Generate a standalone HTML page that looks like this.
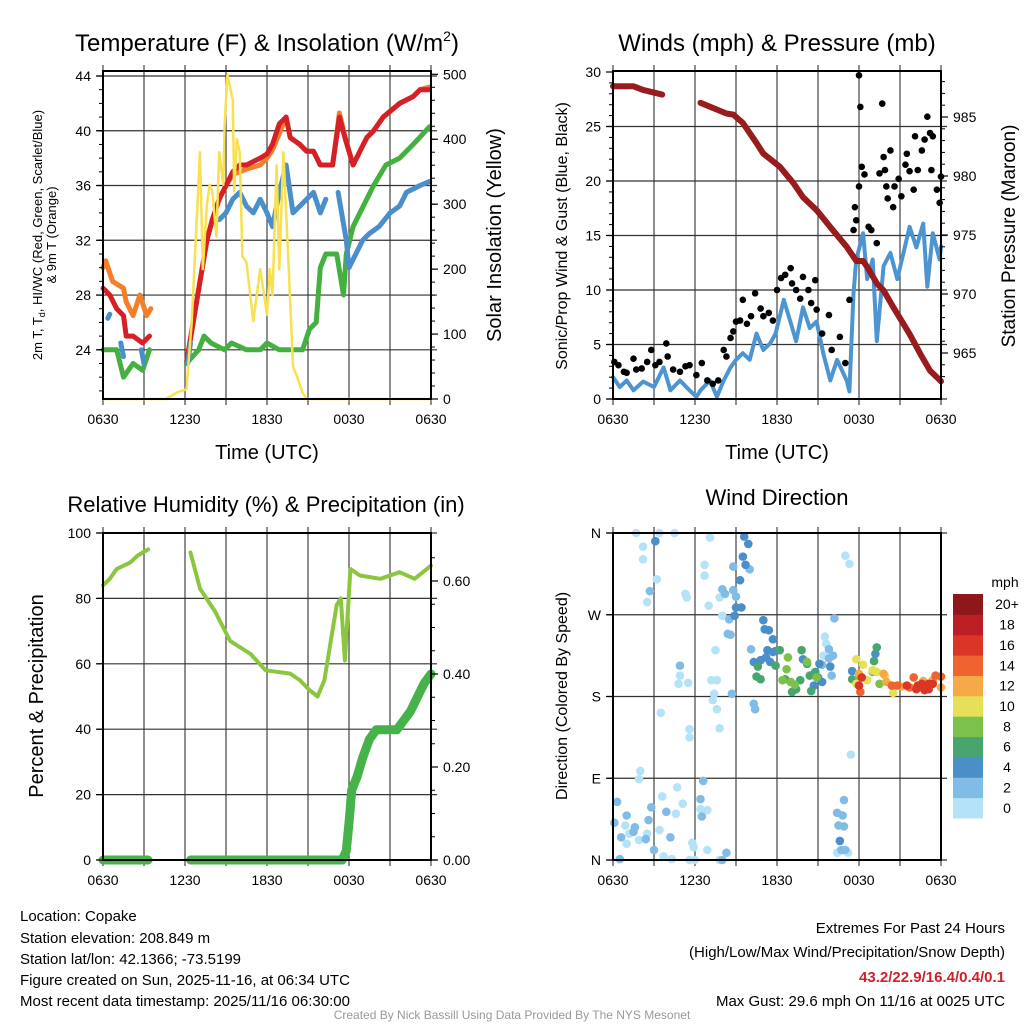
<!DOCTYPE html>
<html><head><meta charset="utf-8">
<style>
html,body{margin:0;padding:0;background:#fff;}
svg{display:block;font-family:"Liberation Sans",Arial,sans-serif;}
</style></head>
<body>
<svg id="chart" width="1024" height="1024" viewBox="0 0 1024 1024" xmlns="http://www.w3.org/2000/svg">
<rect x="0" y="0" width="1024" height="1024" fill="#fff"/>
<g id="bg"></g>
<g id="marks"></g>
<g id="frames"></g>
<text x="267" y="51" font-size="24" text-anchor="middle">Temperature (F) &amp; Insolation (W/m<tspan font-size="14" dy="-10">2</tspan><tspan dy="10">)</tspan></text>
<text x="777" y="51" font-size="24" text-anchor="middle">Winds (mph) &amp; Pressure (mb)</text>
<text x="266" y="512" font-size="22" text-anchor="middle">Relative Humidity (%) &amp; Precipitation (in)</text>
<text x="777" y="505" font-size="22" text-anchor="middle">Wind Direction</text>
<text x="267" y="459" font-size="20" text-anchor="middle">Time (UTC)</text>
<text x="777" y="459" font-size="20" text-anchor="middle">Time (UTC)</text>
<text transform="translate(42,235) rotate(-90)" font-size="13" text-anchor="middle">2m T, T<tspan font-size="9" dy="3">d</tspan><tspan dy="-3">, HI/WC (Red, Green, Scarlet/Blue)</tspan></text>
<text transform="translate(56,235) rotate(-90)" font-size="13" text-anchor="middle">&amp; 9m T (Orange)</text>
<text transform="translate(501,235) rotate(-90)" font-size="20" text-anchor="middle">Solar Insolation (Yellow)</text>
<text transform="translate(567,236) rotate(-90)" font-size="16" text-anchor="middle">Sonic/Prop Wind &amp; Gust (Blue, Black)</text>
<text transform="translate(1015,236) rotate(-90)" font-size="19" text-anchor="middle">Station Pressure (Maroon)</text>
<text transform="translate(43,696) rotate(-90)" font-size="20" text-anchor="middle">Percent &amp; Precipitation</text>
<text transform="translate(567,696) rotate(-90)" font-size="16" text-anchor="middle">Direction (Colored By Speed)</text>
<text x="1005" y="587" font-size="14" text-anchor="middle">mph</text>
<g font-size="15">
<text x="20" y="921">Location: Copake</text>
<text x="20" y="943">Station elevation: 208.849 m</text>
<text x="20" y="964">Station lat/lon: 42.1366; -73.5199</text>
<text x="20" y="985">Figure created on Sun, 2025-11-16, at 06:34 UTC</text>
<text x="20" y="1006">Most recent data timestamp: 2025/11/16 06:30:00</text>
</g>
<g font-size="15" text-anchor="end">
<text x="1005" y="933">Extremes For Past 24 Hours</text>
<text x="1005" y="957">(High/Low/Max Wind/Precipitation/Snow Depth)</text>
<text x="1005" y="982" fill="#d0202a" font-weight="bold">43.2/22.9/16.4/0.4/0.1</text>
<text x="1005" y="1006">Max Gust: 29.6 mph On 11/16 at 0025 UTC</text>
</g>
<text x="512" y="1019" font-size="12" fill="#999" text-anchor="middle">Created By Nick Bassill Using Data Provided By The NYS Mesonet</text>
</svg>
<script>
// ---------- DATA (hours since 0630 UTC) ----------
const timeTickLabels = ["0630","1230","1830","0030","0630"];
const tempTicks = [24,28,32,36,40,44];
const insolTicks = [0,100,200,300,400,500];
const windTicks = [0,5,10,15,20,25,30];
const pressTicks = [965,970,975,980,985];
const rhTicks = [0,20,40,60,80,100];
const precipTicks = ["0.00","0.20","0.40","0.60"];
const dirTickLabels = ["N","E","S","W","N"];
const speedBinLabels = ["0","2","4","6","8","10","12","14","16","18","20+"];

const orangeHours = [0,0.2,0.7,1.5,1.7,2.2,2.7,3.2,3.5,null,6.1,6.6,7.1,7.6,8.0,8.5,9.0,9.5,10.0,10.5,11.5,12.0,12.4,12.9,13.4,13.7,14.4,14.9,15.4,15.9,16.3,16.8,17.3,17.7,18.0,18.3,18.8,19.3,19.8,20.5,21.7,22.7,23.2,23.9];
const orangeTemps = [30,30.5,29,28.5,27.5,26.5,28,26.5,27,null,23,26,29,32,33.5,35,36,36.8,37,37.2,37.5,38,38.6,39.8,41,39.5,39,38.5,38.5,37.5,37.5,37.5,41.3,39.6,38.5,37.5,38.5,39.5,40,41,42,42.5,43,43.2];
const redHours = [0,0.5,1,1.5,1.7,2.2,2.9,3.4,null,6.1,6.6,7.1,7.6,8.0,8.5,9.0,9.5,10.0,10.5,11.5,12.0,12.4,12.9,13.4,13.7,14.4,14.9,15.4,15.9,16.3,16.8,17.3,17.7,18.0,18.3,18.8,19.3,19.8,20.5,21.7,22.7,23.2,23.9];
const redTemps = [28.5,28,27,26.5,25,25,24.5,25,null,23,26,29,32,33.5,35,36,37,37.5,37.5,38,38.3,39,40.5,41,39.5,39,38.5,38.5,37.5,37.5,37.5,41,39.5,38.5,37.5,38.5,39.5,40,41,42,42.5,43,43];
const blueHours = [0.35,0.5,null,1.3,1.5,null,2.8,3.0,null,6.2,6.4,null,8.5,9.0,9.5,10.0,10.5,11.0,11.5,12.0,12.4,12.9,13.4,13.9,14.4,14.9,15.4,15.9,16.3,null,17.2,17.8,18.0,18.5,19.0,19.5,20.2,21.0,21.7,22.2,23.2,23.9];
const blueTemps = [26.3,26.6,null,24.5,23.5,null,24,23,null,23,24.5,null,33.5,34,35,35.5,34.5,34,35,34,33,35.5,37.5,34,34.5,35,35.5,34,35,null,35.5,32,30,31,32,32.5,33,34,34.5,35.5,36,36.3];
const greenHours = [0,1,1.5,2.2,2.9,3.4,null,6.1,7.0,7.4,7.9,8.9,9.4,10.5,11.5,12.0,12.9,13.9,14.6,15.1,15.6,15.9,16.3,16.8,17.1,17.6,17.8,18.3,18.8,19.8,20.7,21.7,22.7,23.9];
const greenTemps = [24,24,22,23,22.5,24,null,23,24,25,24.5,24,24.5,24,24,24.5,24,24,24,25.5,26,30,31,31,31,28,31,33,34,36,37.5,38,39,40.3];
const insolHours = [0,4.6,5.4,6.1,6.5,6.8,7.1,7.3,7.6,7.8,8.0,8.3,8.5,8.8,8.9,9.1,9.5,9.6,9.8,10.0,10.2,10.5,11.0,11.5,12.0,12.2,12.4,12.7,12.9,13.2,13.7,13.9,14.1,14.6,14.9,24];
const insolValues = [0,0,10,15,120,250,380,200,300,330,320,250,380,330,420,500,460,320,400,380,220,210,120,200,130,200,160,360,200,380,150,50,40,10,0,0];

const windHours = [0,0.5,1.0,1.5,2.2,3.0,3.7,4.2,4.9,5.6,6.1,6.4,7.1,7.6,8.1,8.6,9.0,9.5,10.0,10.5,11.0,11.5,11.9,12.5,13.0,13.4,13.9,14.4,14.9,15.4,15.9,16.4,17.1,17.3,17.6,17.8,18.3,18.6,19.0,19.3,19.8,20.3,20.8,21.2,21.7,22.2,22.7,23.0,23.4,23.9,24.0];
const windSpeeds = [2.0,1.1,1.7,0.8,1.6,1.1,2.9,0.8,1.7,0.8,0.2,0.8,1.7,0.2,1.7,2.9,3.6,4.2,3.6,6.0,4.5,5.1,6.0,9.1,7.0,5.3,8.4,6.5,7.1,4.1,1.7,3.6,1.7,0.7,9.7,12.8,15.2,11.0,12.8,5.3,12.2,13.4,11.0,13.1,15.8,13.9,16.1,10.3,15.2,12.8,14.0];
const gustHours = [0.1,0.4,0.8,1.0,1.5,1.7,2.1,2.5,2.8,3.1,3.4,3.9,4.0,4.4,4.9,5.3,5.6,6.1,6.5,6.9,7.3,7.7,8.1,8.3,8.6,8.8,9.0,9.3,9.5,9.8,10.1,10.4,10.8,11.0,11.4,11.7,12.0,12.3,12.6,13.0,13.1,13.4,13.7,13.9,14.3,14.5,14.8,14.9,15.3,15.8,16.0,16.6,17.0,17.3,17.6,17.7,17.8,18.0,18.1,18.0,18.2,18.4,18.7,18.9,19.3,19.5,19.7,19.8,19.9,20.0,20.1,20.3,20.5,20.6,20.9,21.1,21.4,21.5,21.7,22.0,22.1,22.3,22.6,22.8,23.0,23.2,23.3,23.4,23.7,23.9,24.0];
const gustSpeeds = [3.4,3.1,2.5,2.4,3.7,2.7,2.8,3.4,4.5,3.1,3.4,5.1,3.9,2.7,2.5,3.0,3.1,2.2,3.3,1.7,1.4,1.7,4.5,3.9,5.6,6.2,7.1,7.2,9.1,6.9,7.6,9.7,8.3,7.6,7.9,7.2,10.0,11.1,11.4,12.0,10.6,10.0,9.2,11.2,10.0,8.8,10.9,8.2,6.0,7.7,4.5,5.7,3.3,9.1,15.5,17.6,16.4,19.5,26.8,29.7,21.3,20.6,15.8,15.5,14.3,20.7,27.1,22.2,21.0,19.5,18.4,22.8,17.6,19.5,20.2,18.6,21.5,22.5,20.9,19.2,24.1,21.0,22.8,23.8,25.9,24.4,21.0,24.1,19.2,18.0,20.4];
const pressHours = [0,1.5,2.2,3.6,null,6.4,8.3,8.8,9.5,10.5,11.0,12.2,13.2,13.9,14.9,16.1,17.1,17.8,18.3,18.6,19.3,19.8,20.5,21.7,22.5,23.2,24.0];
const pressValues = [987.6,987.6,987.3,986.9,null,986.2,985.3,985.2,984.5,982.8,981.9,980.8,979.4,978.2,977.1,975.4,974.0,972.8,972.8,972.3,970.9,970.3,968.9,966.6,964.9,963.5,962.6];

const rhHours = [0,0.5,1,1.5,2,2.5,3.3,null,6.4,7.1,8.2,9.3,10.8,11.9,13.7,14.4,15.1,15.7,16.2,17.1,17.4,17.7,18.1,18.8,20.3,21.7,22.8,24];
const rhValues = [84,86,89,90,91,93,95,null,94,83,76,67,63,58,57,55,52,50,55,78,80,61,89,87,86,88,86,90];
const precipHours = [0,3.3,null,6.4,17.5,17.8,18.0,18.2,18.6,19.0,19.5,20.0,21.5,22.0,22.5,23.0,23.5,24.0];
const precipValues = [0,0,null,0,0,0.02,0.08,0.15,0.18,0.22,0.26,0.28,0.28,0.30,0.32,0.35,0.38,0.40];

const dirHours = [
1.7,3.4,4.5,2.2,2.2,3.2,2.5,5.3,5.4,7.1,6.7,6.7,7.0,7.8,8.0,7.5,4.9,4.8,5.5,7.2,7.6,7.4,7.3,7.6,3.5,5.6,5.6,7.8,17.4,17.0,17.3,2.0,1.9,4.7,3.6,5.1,6.9,6.4,4.6,3.4,2.5,1.2,1.0,0.9,1.9,3.7,4.3,5.8,5.9,6.9,5.6,6.0,16.4,17.2,7.8,15.5,15.4,15.6,
2.7,4.9,8.7,8.0,8.2,8.8,9.0,8.8,10.0,8.5,8.4,8.6,10.1,10.3,10.4,16.2,15.8,15.8,16.0,16.1,15.3,0.3,2.8,1.0,2.6,3.9,1.6,4.2,3.0,0.5,0.1,0.6,1.5,2.4,6.4,6.5,6.6,8.3,8.0,16.9,16.4,16.8,16.5,16.9,16.7,17.0,
3.1,9.6,9.9,9.5,9.7,9.3,9.4,9.0,8.9,11.0,11.1,11.4,11.7,11.3,10.8,11.2,11.9,11.5,11.7,13.9,15.1,15.3,15.9,16.6,17.5,19.2,14.7,15.0,10.3,
10.6,10.8,10.5,12.2,11.9,13.8,14.2,14.4,14.5,13.7,14.8,17.5,19.1,19.3,13.1,13.4,12.6,
12.8,12.7,12.4,13.0,13.3,14.2,14.9,19.0,19.5,18.0,
17.8,18.3,18.6,19.0,19.3,20.5,19.9,17.8,
18.0,19.8,20.0,21.1,22.7,23.4,24.0,
18.1,20.4,20.8,21.7,22.0,23.6,24.0,
18.2,18.0,21.5,22.2,22.6,23.1,23.1,22.3,22.8,23.4];
const dirDegrees = [
360,360,360,345,331,309,284,293,289,355,325,313,280,289,269,231,203,194,195,198,198,183,176,166,162,144,135,145,116,335,326,98,89,80,70,62,55,56,51,33,29,29,18,38,22,4,1,19,14,11,0,0,8,8,0,246,225,238,
296,214,183,298,293,297,290,323,320,265,249,248,232,172,166,266,232,222,203,225,215,64,58,49,44,53,36,25,11,1,41,25,31,23,67,48,87,8,0,66,52,49,38,37,11,11,
351,356,348,334,325,308,278,278,269,264,254,253,243,231,220,223,230,218,229,221,216,196,213,21,208,227,192,201,218,
213,199,202,231,214,231,216,203,186,198,207,199,219,234,185,188,199,
223,210,198,196,193,218,201,207,194,201,
221,215,198,209,207,184,203,194,
205,205,196,191,197,198,190,
185,192,192,190,201,203,202,
201,192,192,188,194,188,194,192,187,194];
const dirSpeeds = [
1,1,1,1,1,1,1,1,1,1,1,1,1,1,1,1,1,1,1,1,1,1,1,1,1,1,1,1,1,1,1,1,1,1,1,1,1,1,1,1,1,1,1,1,1,1,1,1,1,1,1,1,1,1,1,1,1,1,
3,3,3,3,3,3,3,3,3,3,3,3,3,3,3,3,3,3,3,3,3,3,3,3,3,3,3,3,3,3,3,3,3,3,3,3,3,3,3,3,3,3,3,3,3,3,
5,5,5,5,5,5,5,5,5,5,5,5,5,5,5,5,5,5,5,5,5,5,5,5,5,5,5,5,5,
7,7,7,7,7,7,7,7,7,7,7,7,7,7,7,7,7,
9,9,9,9,9,9,9,9,9,9,
11,11,11,11,11,11,11,11,
13,13,13,13,13,13,13,
15,15,15,15,15,15,15,
17,17,17,17,17,17,17,17,17,17];
const speedColors = ["#b4e3f8","#80bce6","#4a8fc8","#48a56f","#7cc14a","#e6df58","#f6aa47","#ef6330","#db3528","#bb1e25","#8e171b"];

// ---------- SCALES ----------
const NS="http://www.w3.org/2000/svg";
const bg=document.getElementById('bg'), marks=document.getElementById('marks'), frames=document.getElementById('frames');
function mk(parent,tag,attrs,txt){const e=document.createElementNS(NS,tag);for(const k in attrs)e.setAttribute(k,attrs[k]);if(txt!==undefined)e.textContent=txt;parent.appendChild(e);return e;}
const P1={x0:103,x1:431,y0:71,y1:399}, P2={x0:613,x1:941,y0:71,y1:399}, P3={x0:103,x1:431,y0:533,y1:860}, P4={x0:613,x1:941,y0:533,y1:860};
const xL=h=>103+h*328/24, xR=h=>613+h*328/24;
const yTemp=v=>76+(44-v)*13.69, yIns=v=>399-v*0.6494;
const yWind=v=>399-v*10.9, yPress=p=>117+(985-p)*11.8;
const yRH=v=>860-v*3.27, yPrecip=v=>860-v*465;
const yDir=d=>860-d*327/360;
function pathD(hs,vs,fx,fy){let d="",pen=false;for(let i=0;i<hs.length;i++){if(hs[i]===null||vs[i]===null){pen=false;continue;}d+=(pen?"L":"M")+fx(hs[i]).toFixed(1)+","+fy(vs[i]).toFixed(1);pen=true;}return d;}

// ---------- GRIDS & FRAMES ----------
function grid(P,yLines,xf,name){
  for(let k=0;k<=8;k++){const x=xf(k*3);
    const g=mk(bg,'line',{x1:x,x2:x,y1:P.y0-6,y2:P.y1+6,stroke:'#444','stroke-width':1.2});
    
    }
  yLines.forEach(y=>{const g=mk(bg,'line',{x1:P.x0-6,x2:P.x1+6,y1:y,y2:y,stroke:'#333','stroke-width':1.2});
    
    });
  const f=mk(frames,'rect',{x:P.x0,y:P.y0,width:P.x1-P.x0,height:P.y1-P.y0,fill:'none',stroke:'#000','stroke-width':2});
  
  
  timeTickLabels.forEach((t,i)=>{const tx=mk(frames,'text',{x:xf(i*6),y:P.y1+25,'font-size':14,'text-anchor':'middle'},t);
    
    });
}
grid(P1,tempTicks.map(yTemp),xL,'temp');
grid(P2,[0,5,10,15,20,25].map(yWind),xR,'wind');
grid(P3,[0,20,40,60,80,100].map(yRH),xL,'rh');
grid(P4,[0,90,180,270,360].map(yDir),xR,'dir');

function yAxis(x,side,vals,fy,labels,minorVals,name){
  const s=side==='left'?-1:1;
  vals.forEach((v,i)=>{const y=fy(v);
    const t=mk(frames,'line',{x1:x,x2:x+s*7,y1:y,y2:y,stroke:'#000','stroke-width':1.2});
    
    
    const tx=mk(frames,'text',{x:x+s*12,y:y+5,'font-size':14,'text-anchor':side==='left'?'end':'start'},labels[i]);
    
    });
  minorVals.forEach(v=>{const y=fy(v);
    const t=mk(frames,'line',{x1:x,x2:x+s*4,y1:y,y2:y,stroke:'#000','stroke-width':1});
    
    });
}
const range=(a,b,s)=>{const r=[];for(let v=a;v<=b+1e-9;v+=s)r.push(+v.toFixed(3));return r;};
yAxis(103,'left',tempTicks,yTemp,tempTicks.map(String),range(21,43,1),'temp-y');
yAxis(431,'right',insolTicks,yIns,insolTicks.map(String),range(20,480,20),'insol-y');
yAxis(613,'left',windTicks,yWind,windTicks.map(String),range(1,29,1),'wind-y');
yAxis(941,'right',pressTicks,yPress,pressTicks.map(String),range(963,988,1),'press-y');
yAxis(103,'left',rhTicks,yRH,rhTicks.map(String),[],'rh-y');
yAxis(431,'right',[0,0.2,0.4,0.6],yPrecip,precipTicks,range(0.05,0.65,0.05),'precip-y');
yAxis(613,'left',[0,90,180,270,360],yDir,dirTickLabels,[],'dir-y');

// ---------- SERIES ----------
function line(hs,vs,fx,fy,color,w,name){
  const p=mk(marks,'path',{d:pathD(hs,vs,fx,fy),fill:'none',stroke:color,'stroke-width':w,'stroke-linejoin':'round','stroke-linecap':'round'});
  
  
}
line(orangeHours,orangeTemps,xL,yTemp,'#f47f2b',5,'temp-9m-line');
line(redHours,redTemps,xL,yTemp,'#d42026',5,'temp-2m-line');
line(greenHours,greenTemps,xL,yTemp,'#44b03f',5,'heat-index-line');
line(blueHours,blueTemps,xL,yTemp,'#4a8fcb',5,'dewpoint-line');
line(insolHours,insolValues,xL,yIns,'#f8e050',2.5,'insolation-line');

line(windHours,windSpeeds,xR,yWind,'#4c95d0',4,'sonic-wind-line');
line(pressHours,pressValues,xR,yPress,'#981b1e',6,'pressure-line');
for(let i=0;i<gustHours.length;i++){
  const c=mk(marks,'circle',{cx:xR(gustHours[i]),cy:yWind(gustSpeeds[i]),r:3.3,fill:'#000'});
  
  
}

line(rhHours,rhValues,xL,yRH,'#8cc63f',4,'rh-line');
line(precipHours,precipValues,xL,yPrecip,'#45b34a',9,'precip-line');

for(let i=0;i<dirHours.length;i++){
  const idx=Math.min(10,Math.floor(dirSpeeds[i]/2));
  const c=mk(marks,'circle',{cx:xR(dirHours[i]),cy:yDir(dirDegrees[i]),r:4.3,fill:speedColors[idx]});
  
  
}

// ---------- COLORBAR ----------
const cbTop=594, cbH=224/11;
speedBinLabels.forEach((lab,i)=>{
  const y=cbTop+(10-i)*cbH;
  const r=mk(frames,'rect',{x:953,y:y,width:30,height:cbH+0.5,fill:speedColors[i]});
  
  
  const t=mk(frames,'text',{x:1007,y:y+cbH/2+5,'font-size':14,'text-anchor':'middle'},lab);
  
  
});
</script>
</body></html>
